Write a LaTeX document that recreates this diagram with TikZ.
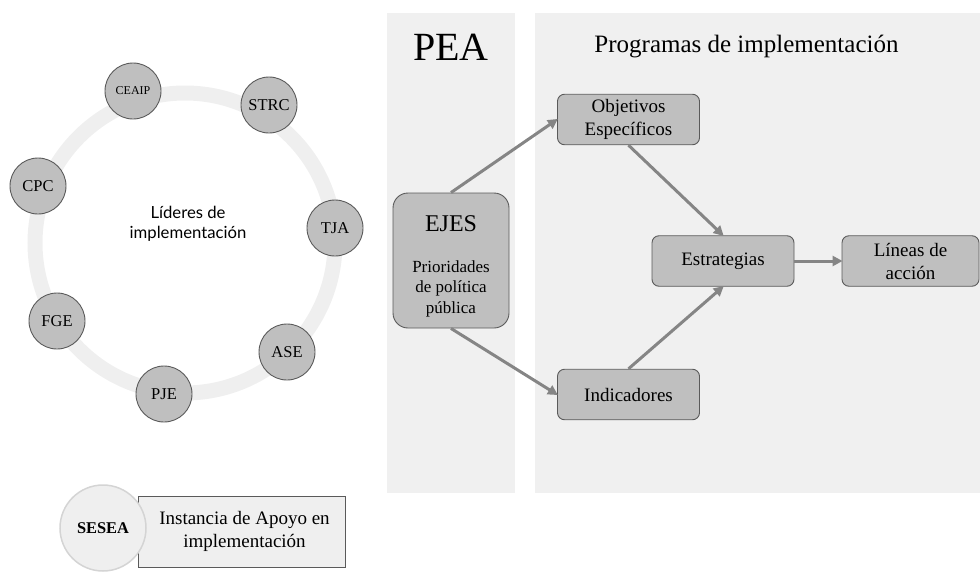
\documentclass[tikz,border=0pt]{standalone}
\usepackage{fontspec}
\setmainfont{Liberation Serif}
\newfontfamily\gillsans{Lato}
\usepackage{tikz}
\usetikzlibrary{arrows.meta}
\usetikzlibrary{positioning}
\definecolor{panelgray}{HTML}{F0F0F0}
\definecolor{boxgray}{HTML}{BFBFBF}
\definecolor{edgegray}{HTML}{5A5A5A}
\definecolor{arrowgray}{HTML}{858585}
\definecolor{ringgray}{HTML}{EFEFEF}
\tikzset{panel/.style={fill=panelgray,draw=none}}

\begin{document}
\begin{tikzpicture}[x=1pt,y=-1pt]
  % some styles
  \tikzset{
    lider/.style={
      circle,
      minimum size=56pt,
      inner sep=0pt,
      fill=boxgray,
      draw=edgegray,
      line width=0.9pt,
      font=\fontsize{16.5}{17}\selectfont
    }
  }
  \tikzset{
    paso/.style={
      rectangle,
      rounded corners=7pt,
      minimum width=142pt,
      minimum height=50.5pt,
      inner sep=0pt,
      align=center,
      fill=boxgray,
      draw=edgegray,
      line width=0.9pt,
      font=\fontsize{19}{23}\selectfont
    }
  }
  \tikzset{flecha/.style={draw=arrowgray,line width=3pt,-{Triangle[length=10pt,width=10pt]},shorten >=-1pt}}
  \tikzset{ring/.style={draw=ringgray,line width=15pt}}

\useasboundingbox (0,0) rectangle (980,573);

% leaders circle
\draw[ring] (185,243) circle (150);
\node[font=\gillsans\fontsize{16.7}{19.5}\selectfont,align=center] (lideres) at (188,224) {Líderes de\\implementación};

\node[lider,font=\fontsize{12}{12}\selectfont] (ceaip) at (133,91) {CEAIP};
\foreach \name/\x/\y in {STRC/269/105,CPC/38/186,TJA/335/228,FGE/57/321,PJE/164/394,ASE/287/352} {
   \node[lider] (\name) at (\x,\y) {\name};
}

% support
\node[rectangle,minimum width=207pt,minimum height=71pt,fill=ringgray,draw=edgegray,line width=0.9pt,
      align=center,font=\fontsize{19}{23}\selectfont] (apoyo) at (241.5,531.5) {\hspace*{6pt}Instancia de Apoyo en\\\hspace*{6pt}implementación};
\node[circle,minimum size=86pt,inner sep=0pt,fill=ringgray,draw=black!17,line width=1.5pt,
      font=\bfseries\fontsize{16.4}{17}\selectfont] (sesea) at (103,528) {SESEA};

% panels
\fill[panel] (387,13) rectangle (515,493);
\fill[panel] (535,13) rectangle (980,493);
\node[font=\fontsize{40}{40}\selectfont] (pea) at (451,47) {PEA};
\node[font=\fontsize{25}{25}\selectfont] (programas) at (746.5,47) {Programas de implementación};

% boxes
\node[paso,rounded corners=15pt,minimum width=116pt,minimum height=135pt,font=\fontsize{17}{20.5}\selectfont] (ejes) at (451,260.5)
   {\rule{0pt}{26.7pt}{\fontsize{24}{24}\selectfont EJES}\\[20.5pt]Prioridades\\de política\\pública};
\node[paso] (objetivos) at (628.5,119.5) {Objetivos\\Específicos};
\node[paso] (estrategias) at (723,261) {Estrategias};
\node[paso] (indicadores) at (628.5,394.5) {Indicadores};
\node[paso,minimum width=137pt] (lineas) at (910.5,261) {Líneas de\\acción};

% arrows
\draw[flecha] (ejes.north) -- (objetivos.west);
\draw[flecha] (ejes.south) -- (indicadores.west);
\draw[flecha] (objetivos.south) -- (estrategias.north);
\draw[flecha] (indicadores.north) -- (estrategias.south);
\draw[flecha] (estrategias.east) -- (lineas.west);

\end{tikzpicture}
\end{document}
